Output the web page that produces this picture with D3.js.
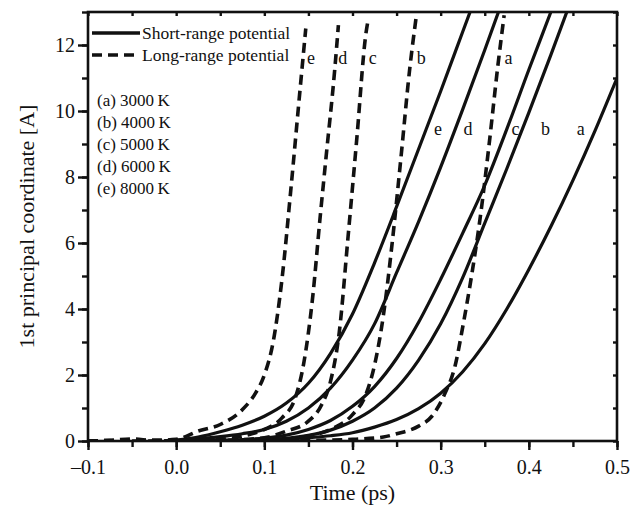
<!DOCTYPE html>
<html>
<head>
<meta charset="utf-8">
<script src="https://cdn.jsdelivr.net/npm/d3@7"></script>
<style>
  body { margin: 0; background: #fff; }
  text { font-family: "Liberation Serif", "Times New Roman", serif; fill: #111; }
</style>
</head>
<body>
<script>
// data: time (ps) and 1st principal coordinate [A]

const shortTimes = [0, 0.025, 0.05, 0.075, 0.1, 0.125, 0.15, 0.175, 0.2, 0.225, 0.25, 0.275, 0.3, 0.325, 0.35, 0.375, 0.4, 0.425, 0.45, 0.475, 0.5];
const shortE = [0.03, 0.12, 0.28, 0.48, 0.75, 1.15, 1.75, 2.65, 3.85, 5.4, 7.1, 8.85, 10.6, 12.4, 14.2];
const shortD = [0.02, 0.06, 0.13, 0.22, 0.35, 0.6, 1.0, 1.6, 2.45, 3.55, 5.1, 6.65, 8.3, 10.05, 11.85, 13.7];
const shortC = [0.0, 0.01, 0.02, 0.04, 0.09, 0.18, 0.35, 0.62, 1.05, 1.65, 2.5, 3.6, 4.9, 6.3, 7.75, 9.45, 11.25, 13.0, 14.8];
const shortB = [0.0, 0.01, 0.02, 0.03, 0.04, 0.08, 0.17, 0.33, 0.6, 1.0, 1.6, 2.45, 3.55, 4.95, 6.6, 8.25, 9.95, 11.7, 13.5];
const shortA = [0.0, 0.0, 0.01, 0.01, 0.02, 0.05, 0.1, 0.16, 0.25, 0.42, 0.65, 0.98, 1.45, 2.1, 2.95, 4.0, 5.2, 6.5, 7.9, 9.4, 11.0];

const longE = [[-0.1, 0], [-0.075, 0.02], [-0.05, 0.06], [-0.025, 0.02], [0, 0.05], [0.025, 0.3], [0.05, 0.5], [0.075, 0.95], [0.09, 1.45], [0.1, 2.0], [0.11, 3.0], [0.12, 4.9], [0.13, 7.6], [0.14, 10.5], [0.147, 12.5]];
const longD = [[-0.1, 0], [-0.05, 0.02], [0, 0.02], [0.05, 0.05], [0.075, 0.15], [0.1, 0.35], [0.12, 0.7], [0.135, 1.3], [0.145, 2.4], [0.155, 4.4], [0.163, 6.7], [0.17, 8.6], [0.18, 11.3], [0.184, 12.6]];
const longC = [[-0.05, 0], [0.05, 0.02], [0.1, 0.1], [0.125, 0.3], [0.15, 0.6], [0.165, 1.1], [0.175, 1.8], [0.185, 3.3], [0.195, 6.2], [0.205, 9.2], [0.215, 12.3], [0.218, 12.8]];
const longB = [[0, 0], [0.1, 0.02], [0.15, 0.15], [0.175, 0.35], [0.2, 0.8], [0.215, 1.4], [0.225, 2.3], [0.235, 3.8], [0.245, 6.0], [0.255, 8.6], [0.265, 11.3], [0.272, 12.8]];
const longA = [[0.05, 0], [0.15, 0.02], [0.2, 0.05], [0.235, 0.12], [0.25, 0.22], [0.275, 0.45], [0.29, 0.75], [0.305, 1.45], [0.316, 2.24], [0.326, 3.6], [0.335, 5.0], [0.345, 6.8], [0.355, 9.0], [0.365, 11.4], [0.372, 12.9]];

const tempLabels = ["(a) 3000\u2009K", "(b) 4000\u2009K", "(c) 5000\u2009K", "(d) 6000\u2009K", "(e) 8000\u2009K"];
const xTicks = [-0.1, 0.0, 0.1, 0.2, 0.3, 0.4, 0.5];
const yTicks = [0, 2, 4, 6, 8, 10, 12];

const w = 630;
const h = 506;
const mLeft = 88, mRight = 617, mTop = 12, mBottom = 441;

const xScale = d3.scaleLinear().domain([-0.1, 0.5]).range([mLeft, mRight]);
const yScale = d3.scaleLinear().domain([0, 13]).range([mBottom, mTop]);

const svg = d3.select("body")
  .append("svg")
  .attr("width", w)
  .attr("height", h);

svg.append("defs").append("clipPath")
  .attr("id", "plot")
  .append("rect")
  .attr("x", mLeft)
  .attr("y", mTop)
  .attr("width", mRight - mLeft)
  .attr("height", mBottom - mTop);

const line = d3.line()
  .x((d) => xScale(d[0]))
  .y((d) => yScale(d[1]))
  .curve(d3.curveMonotoneX);

const zipShort = (vals) => vals.map((v, i) => [shortTimes[i], v]);

const solids = [shortA, shortB, shortC, shortD, shortE].map(zipShort);
const dashes = [longA, longB, longC, longD, longE];

const g = svg.append("g").attr("clip-path", "url(#plot)");

g.selectAll("path.short")
  .data(solids)
  .enter()
  .append("path")
  .attr("class", "short")
  .attr("d", line)
  .attr("fill", "none")
  .attr("stroke", "#111")
  .attr("stroke-width", 3.2);

g.selectAll("path.long")
  .data(dashes)
  .enter()
  .append("path")
  .attr("class", "long")
  .attr("d", line)
  .attr("fill", "none")
  .attr("stroke", "#111")
  .attr("stroke-width", 3.6)
  .attr("stroke-dasharray", "10,6");

// axes
const minorX = d3.range(-0.1, 0.5001, 0.05);
const minorY = d3.range(0, 13.001, 1);

const xAxis = d3.axisBottom(xScale).tickValues(xTicks).tickSize(9).tickFormat((d) => d3.format(".1f")(d).replace("-", "\u2013").replace("\u2212", "\u2013"));
const yAxis = d3.axisLeft(yScale).tickValues(yTicks).tickSize(10).tickFormat(d3.format("d"));

const gx = svg.append("g").attr("transform", `translate(0,${mBottom})`).call(xAxis);
const gy = svg.append("g").attr("transform", `translate(${mLeft},0)`).call(yAxis);

svg.append("g").attr("transform", `translate(0,${mBottom})`)
  .call(d3.axisBottom(xScale).tickValues(minorX).tickSize(6).tickFormat(""));
svg.append("g").attr("transform", `translate(${mLeft},0)`)
  .call(d3.axisLeft(yScale).tickValues(minorY).tickSize(6).tickFormat(""));
svg.append("g").attr("transform", `translate(0,${mTop})`)
  .call(d3.axisBottom(xScale).tickValues(minorX).tickSize(4).tickFormat(""));
svg.append("g").attr("transform", `translate(${mRight},0)`)
  .call(d3.axisLeft(yScale).tickValues(minorY).tickSize(4).tickFormat(""));

svg.selectAll(".domain").remove();
svg.selectAll(".tick line").attr("stroke", "#111").attr("stroke-width", 2.4);

gx.selectAll("text").attr("font-size", 20).attr("dy", "1.05em");
gy.selectAll("text").attr("font-size", 20).attr("x", -13).attr("dy", "0.33em");
svg.selectAll(".tick text").style("font-family", '"Liberation Serif", serif').attr("fill", "#111");

svg.append("rect")
  .attr("x", mLeft)
  .attr("y", mTop)
  .attr("width", mRight - mLeft)
  .attr("height", mBottom - mTop)
  .attr("fill", "none")
  .attr("stroke", "#111")
  .attr("stroke-width", 2.6);

// axis titles
svg.append("text")
  .attr("x", (mLeft + mRight) / 2)
  .attr("y", 500)
  .attr("text-anchor", "middle")
  .attr("font-size", 22)
  .text("Time (ps)");

svg.append("text")
  .attr("transform", `translate(34,${(mTop + mBottom) / 2}) rotate(-90)`)
  .attr("text-anchor", "middle")
  .attr("font-size", 22)
  .text("1st principal coordinate [A]");

// legend
const legend = svg.append("g");
[["Short-range potential", null], ["Long-range potential", "10,6"]].forEach((d, i) => {
  const y = 33 + i * 22;
  legend.append("line")
    .attr("x1", 92).attr("x2", 140)
    .attr("y1", y).attr("y2", y)
    .attr("stroke", "#111")
    .attr("stroke-width", 3.4)
    .attr("stroke-dasharray", d[1]);
  legend.append("text")
    .attr("x", 142)
    .attr("y", y + 6)
    .attr("font-size", 17.5)
    .text(d[0]);
});

svg.selectAll("text.temp")
  .data(tempLabels)
  .enter()
  .append("text")
  .attr("class", "temp")
  .attr("x", 97)
  .attr("y", (d, i) => 106 + i * 22)
  .attr("font-size", 17)
  .text((d) => d);

// curve labels
const longLabels = [["e", 0.153], ["d", 0.189], ["c", 0.223], ["b", 0.278], ["a", 0.377]];
const shortLabels = [["e", 0.297], ["d", 0.331], ["c", 0.385], ["b", 0.419], ["a", 0.459]];

svg.selectAll("text.llab")
  .data(longLabels)
  .enter()
  .append("text")
  .attr("class", "llab")
  .attr("x", (d) => xScale(d[1]))
  .attr("y", yScale(11.6) + 6)
  .attr("text-anchor", "middle")
  .attr("font-size", 18)
  .text((d) => d[0]);

svg.selectAll("text.slab")
  .data(shortLabels)
  .enter()
  .append("text")
  .attr("class", "slab")
  .attr("x", (d) => xScale(d[1]))
  .attr("y", yScale(9.46) + 6)
  .attr("text-anchor", "middle")
  .attr("font-size", 18)
  .text((d) => d[0]);
</script>
</body>
</html>
